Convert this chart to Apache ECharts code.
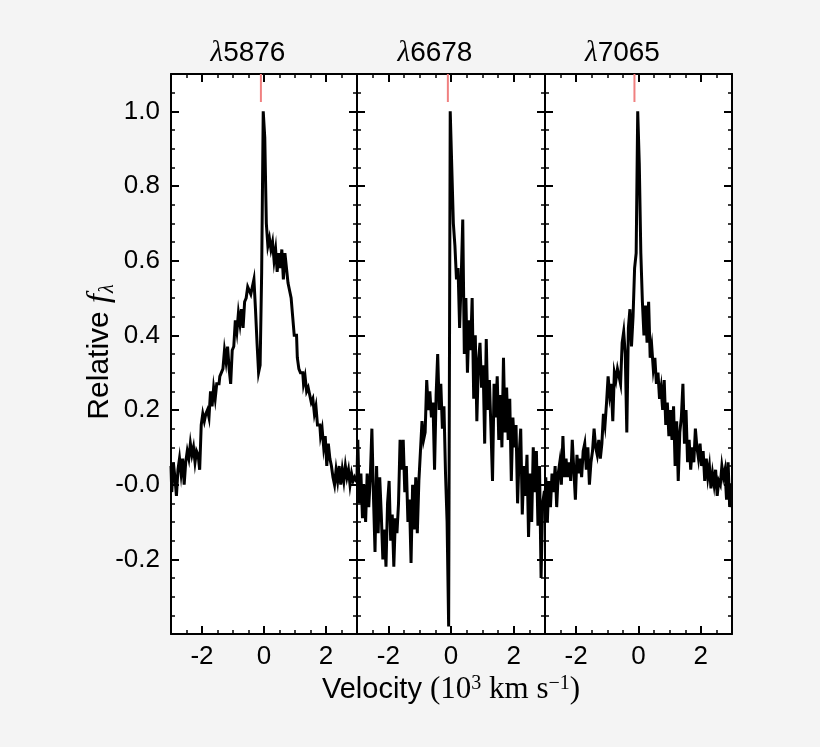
<!DOCTYPE html>
<html>
<head>
<meta charset="utf-8">
<script src="https://cdn.jsdelivr.net/npm/echarts@6/dist/echarts.min.js"></script>
<style>
html,body{margin:0;padding:0;background:#f4f4f4;}
#chart{width:820px;height:747px;}
</style>
</head>
<body>
<div id="chart"></div>
<script>
// ---------------- DATA ----------------
const lineNames = ['5876', '6678', '7065'];
// velocity grid (10^3 km/s), -3 .. 3 in steps of 0.05
const velocity = Array.from({length: 121}, (_, i) => +(-3 + 0.05 * i).toFixed(2));

const flux5876 = [
  0.05,-0.02,0.06,0.02,-0.03,0.04,0.07,0.03,0.07,0.00,
  0.06,0.09,0.07,0.11,0.08,0.10,0.06,0.09,0.08,0.04,
  0.16,0.19,0.17,0.19,0.20,0.18,0.25,0.21,0.26,0.23,
  0.27,0.27,0.29,0.30,0.31,0.36,0.33,0.37,0.31,0.27,
  0.36,0.37,0.44,0.41,0.46,0.43,0.47,0.42,0.49,0.50,
  0.53,0.52,0.51,0.53,0.55,0.47,0.38,0.30,0.32,0.57,
  1.00,0.93,0.70,0.64,0.66,0.63,0.65,0.60,0.63,0.57,
  0.62,0.58,0.63,0.55,0.62,0.58,0.54,0.52,0.50,0.45,
  0.40,0.40,0.34,0.31,0.30,0.30,0.27,0.29,0.25,0.26,
  0.24,0.22,0.23,0.19,0.21,0.16,0.16,0.13,0.15,0.10,
  0.13,0.05,0.11,0.07,0.05,0.02,0.00,0.04,0.01,0.05,
  0.00,0.04,0.01,0.05,0.02,0.04,0.00,0.03,0.01,0.02,
  0.01
];

const flux6678 = [
  0.02,0.12,-0.05,0.03,-0.09,0.00,-0.10,0.03,-0.06,0.02,
  0.15,-0.03,-0.18,0.05,-0.13,0.02,-0.08,-0.20,-0.12,-0.22,
  -0.05,0.01,-0.15,-0.08,-0.22,-0.09,-0.13,-0.05,0.12,0.04,
  0.12,-0.02,0.05,-0.10,-0.04,-0.21,0.00,-0.12,0.02,-0.13,
  0.01,0.09,0.17,0.12,0.14,0.28,0.20,0.25,0.18,0.22,
  0.04,0.24,0.35,0.20,0.27,0.15,0.21,0.03,-0.10,-0.38,
  1.00,0.85,0.70,0.64,0.55,0.58,0.42,0.55,0.71,0.35,
  0.50,0.30,0.44,0.36,0.50,0.23,0.40,0.17,0.33,0.38,
  0.26,0.32,0.11,0.39,0.20,0.28,0.15,0.01,0.27,0.18,
  0.29,0.12,0.24,0.10,0.34,0.14,0.26,0.12,0.23,0.01,
  0.18,0.10,0.16,-0.05,0.08,0.15,-0.08,0.05,-0.03,0.08,
  -0.14,0.03,-0.10,0.10,-0.02,0.09,-0.11,0.05,-0.25,-0.05,
  -0.02
];

const flux7065 = [
  -0.05,0.02,-0.10,0.01,-0.06,0.03,-0.02,0.05,-0.06,0.03,
  0.06,0.00,0.13,0.02,0.07,0.02,0.06,0.01,0.12,0.04,
  -0.04,0.08,0.03,0.07,0.02,0.09,0.11,0.04,0.10,0.00,
  0.06,0.09,0.15,0.10,0.08,0.12,0.07,0.11,0.19,0.16,
  0.22,0.29,0.24,0.27,0.17,0.30,0.28,0.31,0.29,0.27,
  0.38,0.41,0.35,0.14,0.42,0.47,0.37,0.45,0.58,0.62,
  1.00,0.86,0.62,0.49,0.40,0.48,0.38,0.49,0.34,0.37,
  0.31,0.34,0.27,0.30,0.23,0.26,0.20,0.28,0.16,0.22,
  0.13,0.20,0.12,0.21,0.05,0.17,0.01,0.14,0.18,0.27,
  0.11,0.20,0.06,0.12,0.04,0.10,0.06,0.15,0.10,0.07,
  0.11,0.05,0.09,0.01,0.07,0.02,0.05,-0.01,0.03,0.00,
  0.04,-0.03,0.01,0.00,0.05,0.02,0.04,-0.04,0.06,-0.06,
  0.00
];

const fluxSets = [flux5876, flux6678, flux7065];
// rest-velocity marker (red tick at top of each panel)
const markerVelocity = [-0.1, -0.1, -0.13];
const markerRange = [1.025, 1.1];

const xMajorTicks = [-2, 0, 2];
const yMajorTicks = [-0.4, -0.2, 0, 0.2, 0.4, 0.6, 0.8, 1.0];
const yTickLabels = [-0.2, 0, 0.2, 0.4, 0.6, 0.8, 1.0];

// ---------------- LAYOUT ----------------
const panels = [
  {left: 171, width: 186},
  {left: 357, width: 188},
  {left: 545, width: 187}
];
const TOP = 74, HEIGHT = 560;
const XMIN = -3, XMAX = 3, YMIN = -0.4, YMAX = 1.1;
const black = '#000';
const sans = 'Liberation Sans, Arial, Helvetica, sans-serif';
const serif = 'Liberation Serif, DejaVu Serif, serif';
const labelFont = {fontFamily: sans, fontSize: 26, color: black};

const grid = [], xAxis = [], yAxis = [], series = [], graphic = [];

panels.forEach((p, i) => {
  grid.push({left: p.left, top: TOP, width: p.width, height: HEIGHT,
    show: true, backgroundColor: '#fff', borderWidth: 0});

  ['bottom', 'top'].forEach(pos => {
    // minor ticks + frame line
    xAxis.push({gridIndex: i, type: 'value', min: XMIN, max: XMAX, interval: 0.5, position: pos,
      axisLine: {show: true, onZero: false, lineStyle: {color: black, width: 2}},
      axisTick: {show: true, inside: true, length: 4, lineStyle: {color: black, width: 1.5}},
      axisLabel: {show: false}, splitLine: {show: false}});
    // major ticks (+ labels on bottom)
    xAxis.push({gridIndex: i, type: 'value', min: XMIN, max: XMAX, position: pos,
      axisLine: {show: false, onZero: false},
      axisTick: {show: true, inside: true, length: 8, customValues: xMajorTicks,
        lineStyle: {color: black, width: 2}},
      axisLabel: {show: pos === 'bottom', customValues: xMajorTicks, margin: 10,
        ...labelFont, formatter: v => String(Math.round(v))},
      splitLine: {show: false}});
  });

  ['left', 'right'].forEach(pos => {
    yAxis.push({gridIndex: i, type: 'value', min: YMIN, max: YMAX, interval: 0.05, position: pos,
      axisLine: {show: true, onZero: false, lineStyle: {color: black, width: 2}},
      axisTick: {show: true, inside: true, length: 4, lineStyle: {color: black, width: 1.5}},
      axisLabel: {show: false}, splitLine: {show: false}});
    yAxis.push({gridIndex: i, type: 'value', min: YMIN, max: YMAX, position: pos,
      axisLine: {show: false, onZero: false},
      axisTick: {show: true, inside: true, length: 8, customValues: yMajorTicks,
        lineStyle: {color: black, width: 2}},
      axisLabel: {show: i === 0 && pos === 'left', customValues: yTickLabels, margin: 11,
        ...labelFont,
        formatter: v => (Math.abs(v) < 1e-9 ? '-0.0' : v.toFixed(1))},
      splitLine: {show: false}});
  });

  const xi = i * 4, yi = i * 4;
  series.push({
    type: 'line', xAxisIndex: xi, yAxisIndex: yi, step: 'middle',
    showSymbol: false, symbol: 'none', animation: false, clip: true,
    lineStyle: {color: black, width: 3, join: 'miter'},
    data: velocity.map((v, k) => [v, fluxSets[i][k]])
  });
  series.push({
    type: 'line', xAxisIndex: xi, yAxisIndex: yi, showSymbol: false, symbol: 'none',
    animation: false, z: 1,
    lineStyle: {color: '#f08080', width: 2},
    data: markerRange.map(y => [markerVelocity[i], y])
  });

  graphic.push({
    type: 'text', x: p.left + p.width / 2 - 16, y: 53,
    style: {
      text: '{l|λ}{n|' + lineNames[i] + '}',
      align: 'center', verticalAlign: 'middle',
      rich: {
        l: {fontFamily: serif, fontStyle: 'italic', fontSize: 29, fill: black},
        n: {fontFamily: sans, fontSize: 28, fill: black}
      }
    }
  });
});

// Y axis name (rotated)
graphic.push({
  type: 'text', x: 100, y: 352, rotation: Math.PI / 2,
  style: {
    text: '{a|Relative }{f|f}{s|λ}',
    align: 'center', verticalAlign: 'middle',
    rich: {
      a: {fontFamily: sans, fontSize: 30, fill: black},
      f: {fontFamily: serif, fontStyle: 'italic', fontSize: 32, fill: black},
      s: {fontFamily: serif, fontStyle: 'italic', fontSize: 20, fill: black,
          verticalAlign: 'bottom', padding: [15, 0, 0, 1]}
    }
  }
});

// X axis name
graphic.push({
  type: 'text', x: 451, y: 690,
  style: {
    text: '{a|Velocity }{b|(10}{sup|3}{b| km s}{sup|−1}{b|)}',
    align: 'center', verticalAlign: 'middle',
    rich: {
      a: {fontFamily: sans, fontSize: 29, fill: black},
      b: {fontFamily: serif, fontSize: 31, fill: black},
      sup: {fontFamily: serif, fontSize: 20, fill: black,
            verticalAlign: 'top', padding: [0, 0, 13, 0]}
    }
  }
});

const chart = echarts.init(document.getElementById('chart'), null, {renderer: 'canvas'});
chart.setOption({
  backgroundColor: '#f4f4f4',
  animation: false,
  grid, xAxis, yAxis, series, graphic
});
</script>
</body>
</html>
